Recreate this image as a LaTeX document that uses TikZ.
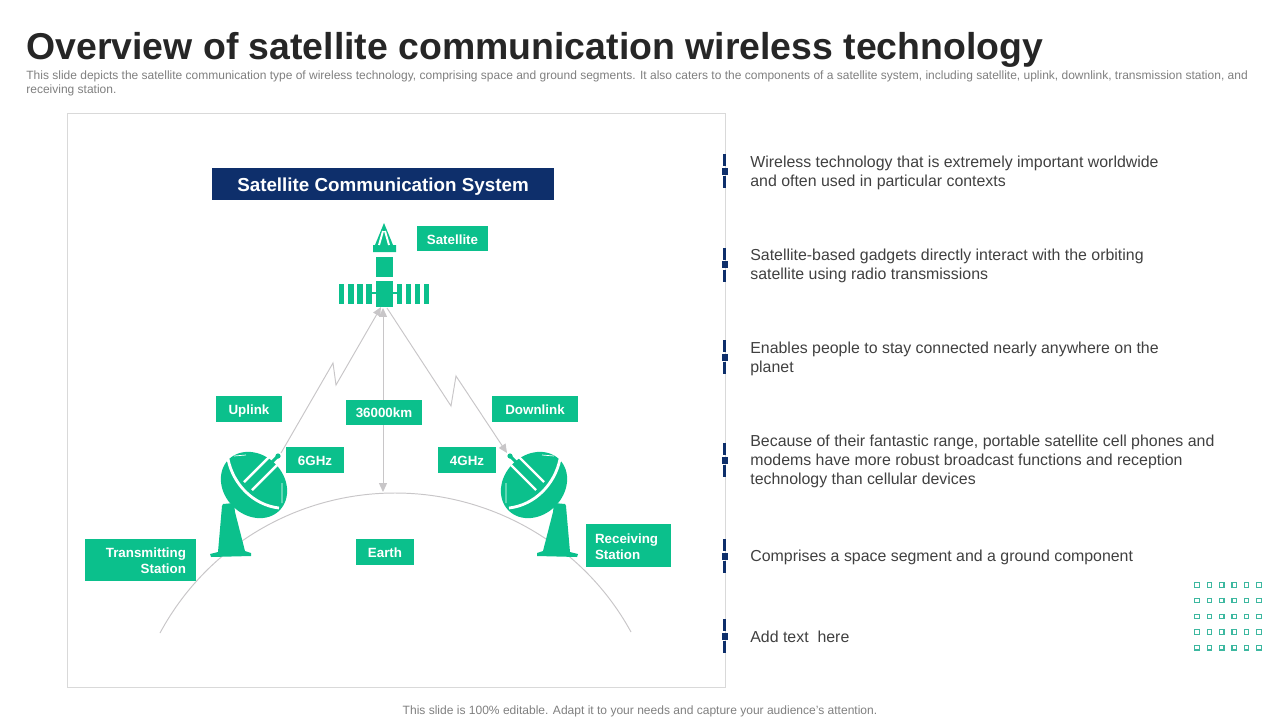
\documentclass[tikz,border=0pt]{standalone}
\usepackage{fontspec}
\setmainfont{Liberation Sans}
\usetikzlibrary{arrows.meta}
\definecolor{sgreen}{HTML}{0BC08C}
\definecolor{snavy}{HTML}{0E2F6B}
\definecolor{sline}{HTML}{C8C6C8}
\definecolor{stext}{HTML}{404040}
\definecolor{sgrey}{HTML}{7F7F7F}
\definecolor{sdot}{HTML}{3DB8A0}
\tikzset{
  lbl/.style={fill=sgreen, text=white, inner sep=0pt, font=\fontsize{7.6}{9}\selectfont\bfseries},
  lblone/.style={lbl, text height=6.5pt, text depth=0pt},
  info/.style={anchor=west, align=left, inner sep=0pt, text=stext, font=\fontsize{9.05}{10.77}\selectfont},
  link/.style={draw=sline, line width=.55pt},
  dish/.pic={
    \fill[sgreen, rotate=-45] (0,0) ellipse [x radius=36, y radius=30];
    \fill[sgreen] (-32,21) -- (-31,19) -- (-20,18) -- (-19,27) -- (-9,66) -- (-3,68) -- (-3,71)
      -- (-43,72) -- (-44,69) -- (-36,67) -- cycle;
    \draw[white, line width=1.6pt] (-26,-26) .. controls (-21,-1) and (-1,20) .. (25,23);
    \draw[white, line width=1.4pt] (-10,-3) -- (20,-33) (-2,5) -- (30,-27);
    \draw[white, line width=.4pt] (-20,-29) -- (-8,-30) (28,-2) -- (28,18);
    \draw[sgreen, line width=1.7pt] (-6,1) -- (24,-29);
    \fill[sgreen] (24,-29) circle [radius=2.6];
    \coordinate (-tip) at (27,-32);
  }
}
\begin{document}
\begin{tikzpicture}[x=.02cm, y=-.02cm, >={Triangle[length=5pt,width=4.5pt]}]
  \useasboundingbox (0,0) rectangle (1280,720);
  \path (26,49.5) node[anchor=west, inner sep=0pt, text=black!85, font=\fontsize{21.3}{25}\selectfont\bfseries] (title)
    {Overview of satellite communication wireless technology};
  \path (26,83) node[anchor=west, align=left, inner sep=0pt, text=sgrey, font=\fontsize{6.83}{7.94}\selectfont] (intro)
    {This slide depicts the satellite communication type of wireless technology, comprising space and ground segments. It also caters to the components of a satellite system, including satellite, uplink, downlink, transmission station, and\\
     receiving station.};
  \path (640,711.5) node[inner sep=0pt, text=sgrey, font=\fontsize{6.85}{8}\selectfont] (foot)
    {This slide is 100\% editable. Adapt it to your needs and capture your audience's attention.};

  \path (396.5,400.5) node[draw=black!15, line width=.6pt, minimum width=13.16cm, minimum height=11.5cm, inner sep=0pt] (frame) {};

  % earth
  \coordinate (earthL) at (160,633);
  \coordinate (earthTop) at (395,493);
  \coordinate (earthR) at (631,632);
  \draw[link] (earthL) .. controls (206.5,546.5) and (297,493) .. (earthTop)
    .. controls (493,493) and (584,546) .. (earthR);

  % satellite
  \fill[sgreen] (384,223) -- (393,245) -- (396,245) -- (396,252) -- (373,252) -- (373,245) -- (375,245) -- cycle;
  \draw[white, line width=1.1pt] (383,231) -- (379,245) (385,231) -- (389,245);
  \fill[sgreen] (376,257) rectangle (393,277);
  \path (384.3,294) node[fill=sgreen, minimum width=.34cm, minimum height=.52cm, inner sep=0pt] (sat) {};
  \foreach \x in {339,348.3,357.3,366.3,396.7,405.7,415,424}
    \fill[sgreen] (\x,284) rectangle +(5.2,20);
  \fill[sgreen] (371,292.3) rectangle (398,294.3);
  \coordinate (satL) at (381,307);
  \coordinate (satM) at (383,308);
  \coordinate (satR) at (387,308);

  % dishes
  \pic (tx) at (254,485) {dish};
  \pic[xscale=-1] (rx) at (534,485) {dish};

  \coordinate (upA) at (333,363);
  \coordinate (upB) at (336,385);
  \coordinate (downA) at (451,406);
  \coordinate (downB) at (456,376);
  \coordinate (distEnd) at (383,492);
  \draw[link,->] (tx-tip) -- (upA) -- (upB) -- (satL);
  \draw[link,->] (satR) -- (downA) -- (downB) -- (rx-tip);
  \draw[link,<->] (satM) -- (distEnd);

  % labels
  \path (383,184) node[fill=snavy, text=white, minimum width=6.84cm, minimum height=.64cm, inner sep=0pt, text height=8.4pt, text depth=0pt, font=\fontsize{10.7}{12}\selectfont\bfseries] (head) {Satellite Communication System};
  \path[lbl]
    (452.5,238.5) node[lblone, minimum width=1.42cm, minimum height=.5cm] (satlbl) {Satellite}
    (249,409) node[lblone, minimum width=1.32cm, minimum height=.52cm] (uplbl) {Uplink}
    (384,412) node[lblone, minimum width=1.52cm, minimum height=.5cm] (dist) {36000km}
    (535,409) node[lblone, minimum width=1.72cm, minimum height=.52cm] (downlbl) {Downlink}
    (315,460) node[lblone, minimum width=1.16cm, minimum height=.52cm] (six) {6GHz}
    (467,460) node[lblone, minimum width=1.16cm, minimum height=.52cm] (four) {4GHz}
    (385,552) node[lblone, minimum width=1.16cm, minimum height=.52cm] (earth) {Earth}
    (140.5,560) node[lbl, minimum width=2.22cm, minimum height=.84cm, align=right, text width=1.82cm] (tx lbl) {\rule{0pt}{6.5pt}Transmitting\\Station}
    (628.5,545.5) node[lbl, minimum width=1.7cm, minimum height=.86cm, align=left, text width=1.34cm] (rx lbl) {\rule{0pt}{6.5pt}Receiving\\Station};

  % right column
  \foreach \y in {171,264.5,357,460,556,636} {
    \fill[snavy] (723,\y-17) rectangle (726,\y-5);
    \fill[snavy] (723,\y+5) rectangle (726,\y+17);
    \fill[snavy] (722,\y-3.5) rectangle (728,\y+3.5);
  }
  \path
    (750,173) node[info] (t1) {Wireless technology that is extremely important worldwide\\and often used in particular contexts}
    (750,266) node[info] (t2) {Satellite-based gadgets directly interact with the orbiting\\satellite using radio transmissions}
    (750,359) node[info] (t3) {Enables people to stay connected nearly anywhere on the\\planet}
    (750,461) node[info] (t4) {Because of their fantastic range, portable satellite cell phones and\\modems have more robust broadcast functions and reception\\technology than cellular devices}
    (750,557) node[info] (t5) {Comprises a space segment and a ground component}
    (750,636.5) node[info] (t6) {Add text\ \ here};

  % dots
  \foreach \x in {1197,1209.4,1221.8,1234.2,1246.6,1259}
    \foreach \y in {585,600.7,616.4,632.1,647.8}
      \draw[sdot, line width=.6pt] (\x-2.2,\y-2.2) rectangle (\x+2.2,\y+2.2);
\end{tikzpicture}
\end{document}
